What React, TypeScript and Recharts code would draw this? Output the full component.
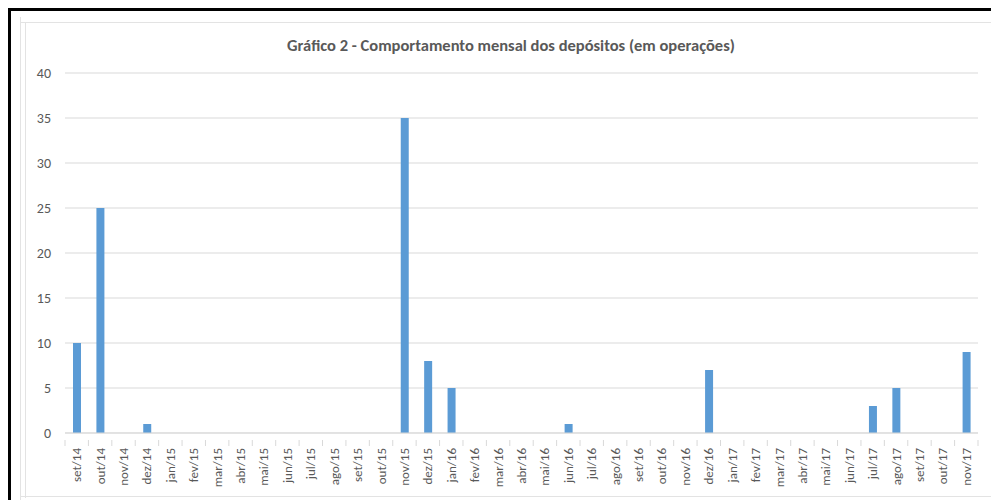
import { BarChart, Bar, XAxis, YAxis, CartesianGrid } from "recharts";

// monthly deposit counts, set/14 .. nov/17
const months = [
  "set/14", "out/14", "nov/14", "dez/14",
  "jan/15", "fev/15", "mar/15", "abr/15", "mai/15", "jun/15", "jul/15", "ago/15", "set/15", "out/15", "nov/15", "dez/15",
  "jan/16", "fev/16", "mar/16", "abr/16", "mai/16", "jun/16", "jul/16", "ago/16", "set/16", "out/16", "nov/16", "dez/16",
  "jan/17", "fev/17", "mar/17", "abr/17", "mai/17", "jun/17", "jul/17", "ago/17", "set/17", "out/17", "nov/17",
];

const deposits = [
  10, 25, 0, 1,
  0, 0, 0, 0, 0, 0, 0, 0, 0, 0, 35, 8,
  5, 0, 0, 0, 0, 1, 0, 0, 0, 0, 0, 7,
  0, 0, 0, 0, 0, 0, 3, 5, 0, 0, 9,
];

const yTicks = [0, 5, 10, 15, 20, 25, 30, 35, 40];

const data = months.map((m, i) => ({ month: m, value: deposits[i] }));

const W = 991;
const H = 500;
const LEFT = 65;
const RIGHT = 13;
const band = (W - LEFT - RIGHT) / months.length;
const font = "Calibri, Carlito, 'Liberation Sans', sans-serif";

function MonthTick(props: any) {
  const { x, y, payload, index } = props;
  const edge = x - band / 2;
  return (
    <g>
      <line x1={edge} y1={y - 1} x2={edge} y2={y + 5} stroke="#d9d9d9" />
      {index === months.length - 1 && (
        <line x1={edge + band} y1={y - 1} x2={edge + band} y2={y + 5} stroke="#d9d9d9" />
      )}
      <text
        x={x + 4.5}
        y={y + 7}
        transform={`rotate(-90, ${x + 4.5}, ${y + 7})`}
        textAnchor="end"
        fontSize={13}
        fill="#595959"
        fontFamily={font}
      >
        {payload.value}
      </text>
    </g>
  );
}

export default function App() {
  return (
    <div style={{ position: "absolute", left: 0, top: 0, width: W, height: H, background: "#fff", overflow: "hidden" }}>
      {/* screenshot frame */}
      <div style={{ position: "absolute", left: 8, top: 8, width: 3, height: H, background: "#000" }} />
      <div style={{ position: "absolute", left: 8, top: 8, width: W, height: 3, background: "#000" }} />
      <div style={{ position: "absolute", left: 20, top: 17, width: 1, height: 483, background: "#e3e3e3" }} />
      <div style={{ position: "absolute", left: 25, top: 22, width: 1, height: 476, background: "#e3e3e3" }} />
      <div style={{ position: "absolute", left: 20, top: 22, width: W, height: 1, background: "#e3e3e3" }} />
      <div style={{ position: "absolute", left: 20, top: 496, width: W, height: 1, background: "#e3e3e3" }} />
      <div style={{ position: "absolute", left: 0, top: 0 }}>
        <BarChart width={W} height={H} data={data} margin={{ top: 73, right: RIGHT, bottom: 0, left: 0 }}>
          <text x={511} y={51} textAnchor="middle" fontSize={16.5} fontWeight="bold" fill="#595959" fontFamily={font}>
            Gráfico 2 - Comportamento mensal dos depósitos (em operações)
          </text>
          <CartesianGrid vertical={false} stroke="#d9d9d9" />
          <XAxis
            dataKey="month"
            interval={0}
            height={67}
            stroke="#d9d9d9"
            tickLine={false}
            tick={<MonthTick />}
          />
          <YAxis
            domain={[0, 40]}
            ticks={yTicks}
            width={LEFT}
            axisLine={false}
            tickLine={false}
            tickSize={0}
            tickMargin={14}
            tick={{ fontSize: 14, fill: "#595959", fontFamily: font }}
          />
          <Bar dataKey="value" fill="#5b9bd5" barSize={8} isAnimationActive={false} />
        </BarChart>
      </div>
    </div>
  );
}
